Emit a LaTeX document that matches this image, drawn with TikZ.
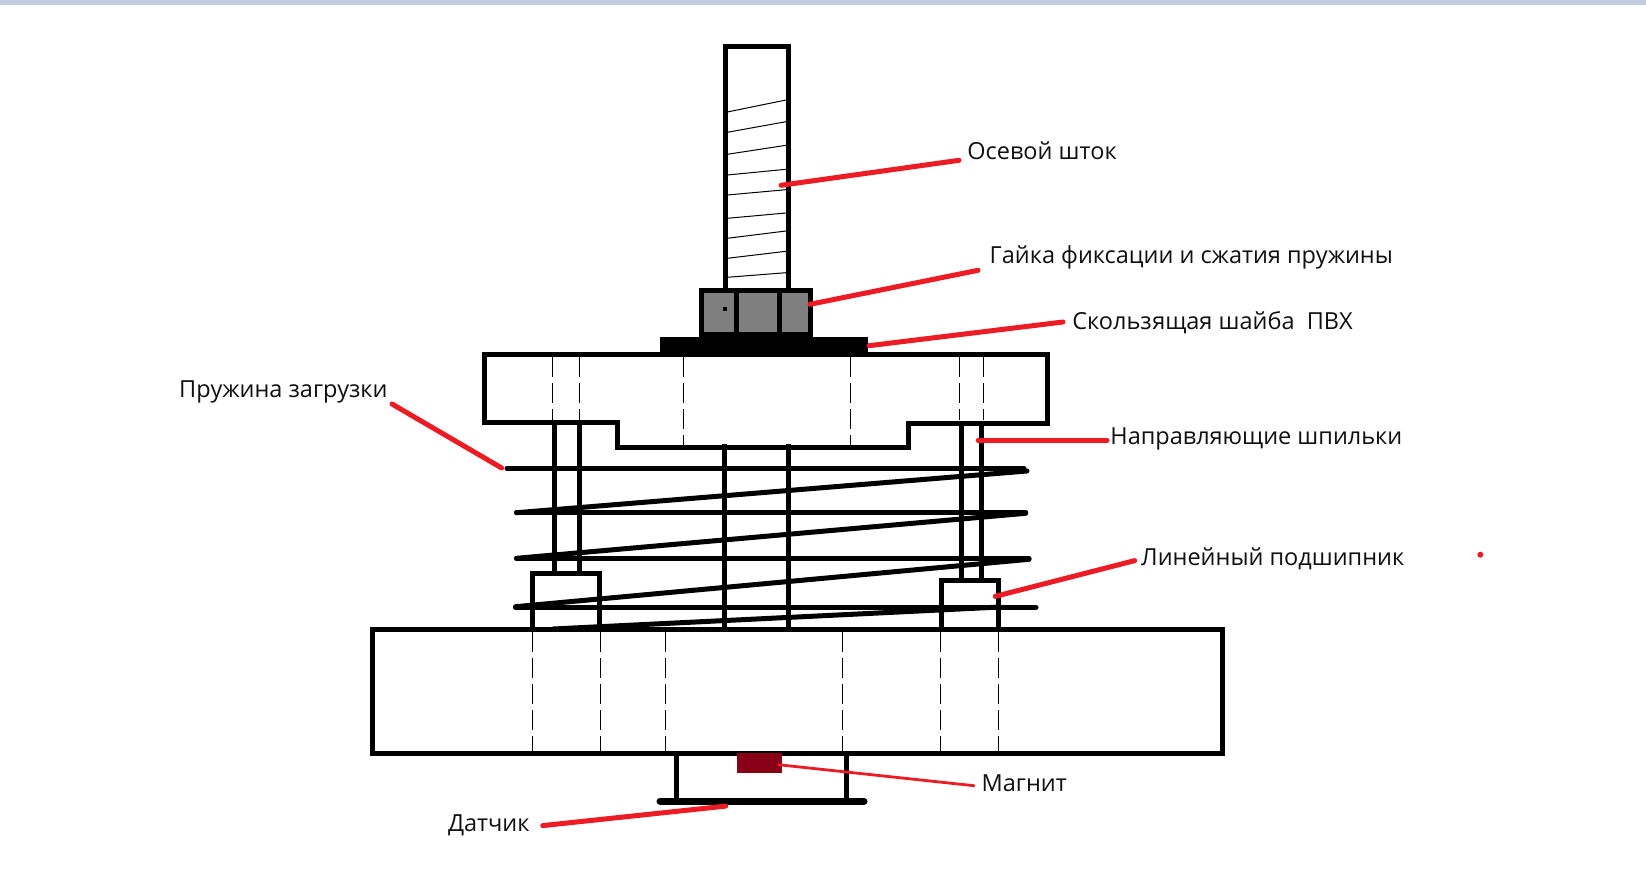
\documentclass[tikz,border=0pt]{standalone}
\usepackage{fontspec}
\setmainfont{Open Sans}
\tikzset{
  part/.style={line width=5pt},
  coil/.style={line width=5pt, line cap=round},
  hidden/.style={line width=1pt, dash pattern=on 20pt off 6pt},
  thread/.style={line width=1pt},
  leader/.style={line width=5pt, color=leaderred, line cap=round},
  caption/.style={anchor=west, inner sep=0pt, font=\fontsize{23.5}{27}\selectfont, text=captionblack}
}
\definecolor{leaderred}{HTML}{ED1C24}
\definecolor{captionblack}{HTML}{101010}
\definecolor{bandblue}{HTML}{C3CFE0}
\definecolor{nutgray}{HTML}{7F7F7F}
\definecolor{magnetred}{HTML}{880015}

\begin{document}
\begin{tikzpicture}[x=1pt, y=-1pt]

\useasboundingbox (0,0) rectangle (1646,872);
\fill[bandblue] (0,0) rectangle (1646,4.7);

\coordinate (shaftend) at (781,185.3);
\coordinate (shaftbend) at (959,160.3);
\coordinate (nutend) at (810,304.3);
\coordinate (nutbend) at (978,270.3);
\coordinate (washerend) at (869,345.7);
\coordinate (washerbend) at (1063,322);
\coordinate (springend) at (501.7,468);
\coordinate (springbend) at (392,404);
\coordinate (guideend) at (978.2,440.3);
\coordinate (guidebend) at (1107,440.3);
\coordinate (bearingend) at (995.2,596.4);
\coordinate (bearingbend) at (1134.7,560.6);
\coordinate (magnetend) at (778.3,764.7);
\coordinate (magnetbend) at (974,785.7);
\coordinate (sensorend) at (725.7,806.1);
\coordinate (sensorbend) at (542.7,825.6);

\foreach \x/\ya/\yb in {727.3/112/100, 727.3/132.3/121.7, 727.3/154.3/145.3, 727.3/175/169.3, 727.3/195/189.7, 727.3/218.3/213, 727.3/238.3/231, 727.3/258.3/251.3, 727.3/277.3/272.7}
    \draw[thread] (\x,\ya) -- (786,\yb);

\draw[part] (725,290) -- (725,46.5) -- (788.5,46.5) -- (788.5,290);

\fill[nutgray] (701.5,290) rectangle (810.5,334);
\draw[part] (701.5,335) -- (701.5,290) -- (810.5,290) -- (810.5,335);
\foreach \x in {736.3,779.3}
    \draw[part] (\x,290) -- (\x,333);
\fill (699.3,331.7) rectangle (812.7,338);
\fill (660,337) rectangle (868,354);
\fill (723,307.3) rectangle (727,311.3);

\draw[part] (617,422.7) -- (484.7,422.7) -- (484.7,354.5) -- (1047.5,354.5) -- (1047.5,423) -- (908.5,423) -- (908.5,447) -- (617,447) -- cycle;

\foreach \x/\yb in {552.3/420, 579.3/420, 683.3/445, 850.3/445, 959.3/420, 983.3/420}
    \draw[hidden] (\x,357) -- (\x,\yb);

\foreach \x/\ya/\yb in {554.7/422/572, 579.5/422/572, 961.6/423/580, 981.7/423/580, 724.3/444/629, 788.3/444/629}
    \draw[part] (\x,\ya) -- (\x,\yb);

\draw[part] (532.7,629) -- (532.7,573.7) -- (599.7,573.7) -- (599.7,629);
\draw[part] (941,629) -- (941,580) -- (998.2,580) -- (998.2,629);

\draw[part] (372.3,629.3) rectangle (1222.3,753.3);

\foreach \x in {532.3,600.3,665.3,842.3,940.6,998.7}
    \draw[hidden] (\x,632) -- (\x,751);

\draw[coil] (507,468.3) -- (1024,468.3);
\draw[coil] (516.5,512.7) -- (1027,471);
\draw[coil] (516.5,512.7) -- (1025.7,512.7);
\draw[coil] (516.5,558.3) -- (1025.7,513.3);
\draw[coil] (516.5,558.3) -- (1029,558.3);
\draw[coil] (515.5,606.7) -- (1029,559.3);
\draw[coil] (515.5,607.3) -- (1036,607.3);
\draw[coil] (553,629) -- (1000,607);

\foreach \x in {676.7,846.4}
    \draw[part] (\x,753) -- (\x,801);
\draw[coil, line width=7pt] (660,801) -- (864,801);

\fill[magnetred] (737,752.7) rectangle (782,772.7);

\node[caption] (shaftlabel) at (967.2,151) {Осевой шток};
\node[caption] (nutlabel) at (989.5,257) {Гайка фиксации и сжатия пружины};
\node[caption] (washerlabel) at (1072.2,322.5) {Скользящая шайба\ \ ПВХ};
\node[caption] (springlabel) at (179,391.5) {Пружина загрузки};
\node[caption] (guidelabel) at (1110.2,439) {Направляющие шпильки};
\node[caption] (bearinglabel) at (1141,558.7) {Линейный подшипник};
\node[caption] (magnetlabel) at (981.5,783) {Магнит};
\node[caption] (sensorlabel) at (447.8,825) {Датчик};

\foreach \i in {shaft,nut,washer,spring,guide,bearing,sensor}
    \draw[leader] (\i end) -- (\i bend);
\draw[leader, line width=2.8pt] (magnetend) -- (magnetbend);

\fill[leaderred] (1480.3,554.7) circle (3pt);

\end{tikzpicture}
\end{document}
